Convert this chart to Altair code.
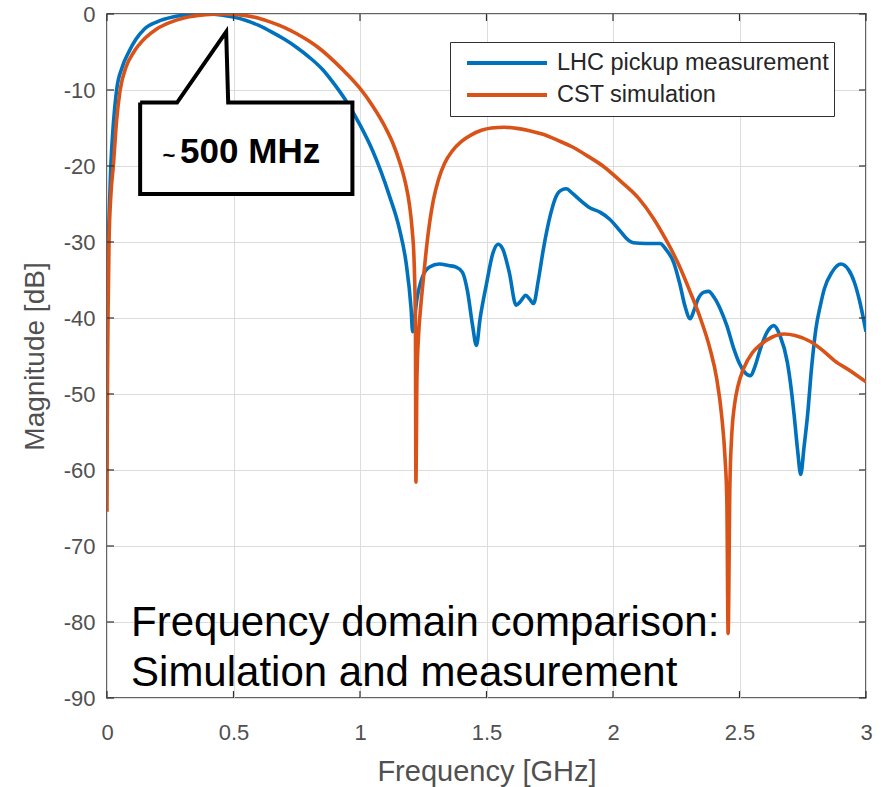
import altair as alt
import pandas as pd

# ---------------- data ----------------
series_names = ["LHC pickup measurement", "CST simulation"]
series_colors = ["#0072BD", "#D95319"]

meas_freq = [0.0, 0.005, 0.015, 0.025, 0.038, 0.06, 0.086, 0.115, 0.147, 0.2, 0.26, 0.32, 0.4,
             0.45, 0.5, 0.55, 0.6, 0.65, 0.7, 0.75, 0.8, 0.852, 0.9, 0.95, 1.0, 1.05, 1.116,
             1.156, 1.182, 1.202, 1.208, 1.225, 1.248, 1.275, 1.314, 1.35, 1.38, 1.405,
             1.425, 1.445, 1.46, 1.475, 1.5, 1.525, 1.546, 1.565, 1.59, 1.617, 1.635, 1.655,
             1.67, 1.686, 1.705, 1.725, 1.752, 1.775, 1.8, 1.815, 1.84, 1.87, 1.908, 1.95,
             1.987, 2.027, 2.055, 2.08, 2.13, 2.186, 2.21, 2.24, 2.264, 2.285, 2.305, 2.32,
             2.335, 2.36, 2.378, 2.4, 2.424, 2.45, 2.477, 2.5, 2.517, 2.544, 2.56, 2.583,
             2.61, 2.636, 2.66, 2.689, 2.705, 2.716, 2.73, 2.742, 2.755, 2.769, 2.785, 2.802,
             2.82, 2.835, 2.865, 2.901, 2.93, 2.954, 2.975, 3.0]
meas_db = [-33.8, -30, -20, -14.5, -10, -7, -5, -3.3, -2, -1, -0.4, -0.1, 0,
           -0.12, -0.4, -0.85, -1.5, -2.35, -3.3, -4.4, -5.7, -7.3, -9.3, -11.7, -14.6, -18.0,
           -23.9, -28.3, -32.7, -38.8, -41.8, -37.5, -34.5, -33.3, -32.9, -33.1, -33.3, -34,
           -36.5, -41, -43.6, -40, -35.5, -31.5, -30.3, -31, -34, -38.3, -37.8, -37,
           -37.5, -38.1, -35, -30.9, -26.5, -24, -23.1, -23, -23.6, -24.5, -25.5, -26.1,
           -27, -28.5, -29.6, -30.1, -30.2, -30.2, -31, -32.7, -35.5, -38.5, -40.1, -39,
           -37.6, -36.6, -36.5, -37.3, -38.8, -41, -44, -46, -47, -47.6, -46.5, -44,
           -41.8, -41, -42.3, -45.8, -49.5, -52.8, -57.5, -60.6, -57, -52.8, -46.5, -41.4,
           -38.3, -36.2, -34, -32.9, -33.6, -35.3, -37.8, -41.8]

sim_freq = [0.0, 0.001, 0.002, 0.004, 0.008, 0.015, 0.025, 0.038, 0.052, 0.075, 0.106, 0.15,
            0.195, 0.25, 0.3, 0.36, 0.42, 0.47, 0.55, 0.6, 0.65, 0.7, 0.75, 0.8, 0.85, 0.9,
            0.95, 1.0, 1.05, 1.1, 1.13, 1.156, 1.18, 1.195, 1.206, 1.214, 1.219, 1.221,
            1.225, 1.232, 1.24, 1.25, 1.262, 1.275, 1.29, 1.31, 1.335, 1.365, 1.4, 1.44, 1.48,
            1.52, 1.57, 1.62, 1.67, 1.72, 1.78, 1.84, 1.9, 1.96, 2.03, 2.1,
            2.16, 2.211, 2.26, 2.303, 2.345, 2.383, 2.41, 2.43, 2.443, 2.45,
            2.455, 2.462, 2.47, 2.48, 2.495, 2.517, 2.55, 2.583, 2.63, 2.676, 2.72, 2.78,
            2.83, 2.875, 2.94, 3.0]
sim_db = [-65.5, -55, -48, -40, -30, -24, -20, -14, -10, -7, -5, -3.2,
          -2, -1.1, -0.55, -0.2, -0.03, 0, -0.22, -0.55, -1.1, -1.75, -2.6, -3.6, -4.8, -6.3,
          -7.95, -9.8, -12.1, -14.9, -17.0, -19.4, -22.3, -25, -28.3, -32.7, -40.6, -61.6,
          -48, -42, -38.5, -35, -31, -27.5, -24.5, -21.8, -19.6, -18, -16.8, -15.9, -15.3,
          -15.0, -14.9, -15.05, -15.35, -15.8, -16.6, -17.5, -18.7, -20.0, -22.0, -24.2,
          -26.9, -29.8, -33.0, -36.4, -40.0, -44.0, -48.0, -53.0, -58.5, -64,
          -81.5, -62, -55, -51.5, -48.8, -46.6, -44.6, -43.5, -42.5, -42.1, -42.3, -43.1,
          -44.3, -45.6, -47.0, -48.4]

x_ticks = [0, 0.5, 1, 1.5, 2, 2.5, 3]
y_ticks = [-90, -80, -70, -60, -50, -40, -30, -20, -10, 0]

# callout annotation (anchored in data coordinates)
callout_freq = [0.131, 0.277, 0.471, 0.479, 0.970, 0.970, 0.131, 0.131]
callout_db = [-11.66, -11.66, -2.36, -11.66, -11.66, -23.7, -23.7, -11.66]
callout_label = "500 MHz"
callout_tilde = "~"
note_lines = ["Frequency domain comparison:", "Simulation and measurement"]
note_db = [-81.9, -88.4]

# ---------------- tables ----------------
curves = pd.concat([
    pd.DataFrame({"freq": meas_freq, "db": meas_db, "series": series_names[0]}),
    pd.DataFrame({"freq": sim_freq, "db": sim_db, "series": series_names[1]}),
], ignore_index=True)

W, H = 759, 684
FONT = "Liberation Sans"

xs = alt.Scale(domain=[0, 3], nice=False, zero=False)
ys = alt.Scale(domain=[-90, 0], nice=False, zero=False)
x_axis = alt.Axis(values=x_ticks, labelExpr="'' + datum.value", grid=True, ticks=False,
                  domain=False, labelFlush=False, labelPadding=24, labelFontSize=22,
                  labelColor="#505050", titleFontSize=29, titleColor="#505050",
                  titleFontWeight="normal", titlePadding=14, gridColor="#dcdcdc", gridWidth=1)
y_axis = alt.Axis(values=y_ticks, labelExpr="'' + datum.value", grid=True, ticks=False,
                  domain=False, labelFlush=False, labelPadding=12, labelFontSize=22,
                  labelColor="#505050", titleFontSize=28, titleColor="#505050",
                  titleFontWeight="normal", titlePadding=14, gridColor="#dcdcdc", gridWidth=1)
X = alt.X("freq:Q", scale=xs, axis=x_axis, title="Frequency [GHz]")
Y = alt.Y("db:Q", scale=ys, axis=y_axis, title="Magnitude [dB]")

lines = alt.Chart(curves).mark_line(strokeWidth=3.6, interpolate="monotone", clip=True).encode(
    x=X, y=Y,
    color=alt.Color("series:N", sort=series_names,
                    scale=alt.Scale(domain=series_names, range=series_colors),
                    legend=alt.Legend(title=None, orient="none", legendX=343, legendY=28,
                                      symbolType="stroke", symbolSize=6400,
                                      symbolStrokeWidth=4, clipHeight=32, labelFontSize=23.5,
                                      labelColor="#262626", labelOffset=8, padding=5,
                                      symbolOffset=10, rowPadding=0, labelLimit=400,
                                      strokeColor="#303030", fillColor="white")),
)

# inward tick marks (MATLAB style) on all four sides
yt = pd.DataFrame({"db": y_ticks})
xt = pd.DataFrame({"freq": x_ticks})
tick_left = alt.Chart(yt).mark_rule(color="#303030", strokeWidth=1.2).encode(
    y=Y, x=alt.value(0), x2=alt.value(7))
tick_right = alt.Chart(yt).mark_rule(color="#303030", strokeWidth=1.2).encode(
    y=Y, x=alt.value(W - 7), x2=alt.value(W))
tick_bottom = alt.Chart(xt).mark_rule(color="#303030", strokeWidth=1.2).encode(
    x=X, y=alt.value(H - 7), y2=alt.value(H))
tick_top = alt.Chart(xt).mark_rule(color="#303030", strokeWidth=1.2).encode(
    x=X, y=alt.value(0), y2=alt.value(7))

# callout
box_df = pd.DataFrame({"freq": [callout_freq[0]], "freq2": [callout_freq[4]],
                       "db": [callout_db[0]], "db2": [callout_db[5]]})
box = alt.Chart(box_df).mark_rect(fill="white").encode(
    x=X, x2="freq2:Q", y=Y, y2="db2:Q")
tri_df = pd.DataFrame({"freq": callout_freq[1:4], "db": callout_db[1:4],
                       "db2": [callout_db[1]] * 3})
tri = alt.Chart(tri_df).mark_area(fill="white", interpolate="linear").encode(
    x=X, y=Y, y2="db2:Q")
outline_df = pd.DataFrame({"freq": callout_freq, "db": callout_db,
                           "k": list(range(len(callout_freq)))})
outline = alt.Chart(outline_df).mark_line(color="black", strokeWidth=4, strokeJoin="miter",
                                          interpolate="linear").encode(
    x=X, y=Y, order=alt.Order("k:Q"))
lab_df = pd.DataFrame({"freq": [0.289], "db": [-19.6], "t": [callout_label]})
lab = alt.Chart(lab_df).mark_text(align="left", baseline="alphabetic", fontSize=35,
                                  fontWeight="bold", color="black").encode(
    x=X, y=Y, text="t:N")
tilde_df = pd.DataFrame({"freq": [0.219], "db": [-19.6], "t": [callout_tilde]})
tilde = alt.Chart(tilde_df).mark_text(align="left", baseline="alphabetic", fontSize=22,
                                      fontWeight="bold", color="black").encode(
    x=X, y=Y, text="t:N")

note_df = pd.DataFrame({"freq": [0.095, 0.095], "db": note_db, "t": note_lines})
note = alt.Chart(note_df).mark_text(align="left", baseline="alphabetic", fontSize=42,
                                    color="black").encode(x=X, y=Y, text="t:N")

chart = alt.layer(lines, tick_left, tick_right, tick_bottom, tick_top,
                  box, tri, outline, tilde, lab, note).properties(
    width=W, height=H,
    autosize=alt.AutoSizeParams(type="none"),
    padding={"left": 107, "top": 14, "right": 15, "bottom": 89},
    background="white",
).configure(font=FONT).configure_view(stroke="#303030", strokeWidth=1.5)

chart.save("out.html", embed_options={"renderer": "svg", "actions": False})
